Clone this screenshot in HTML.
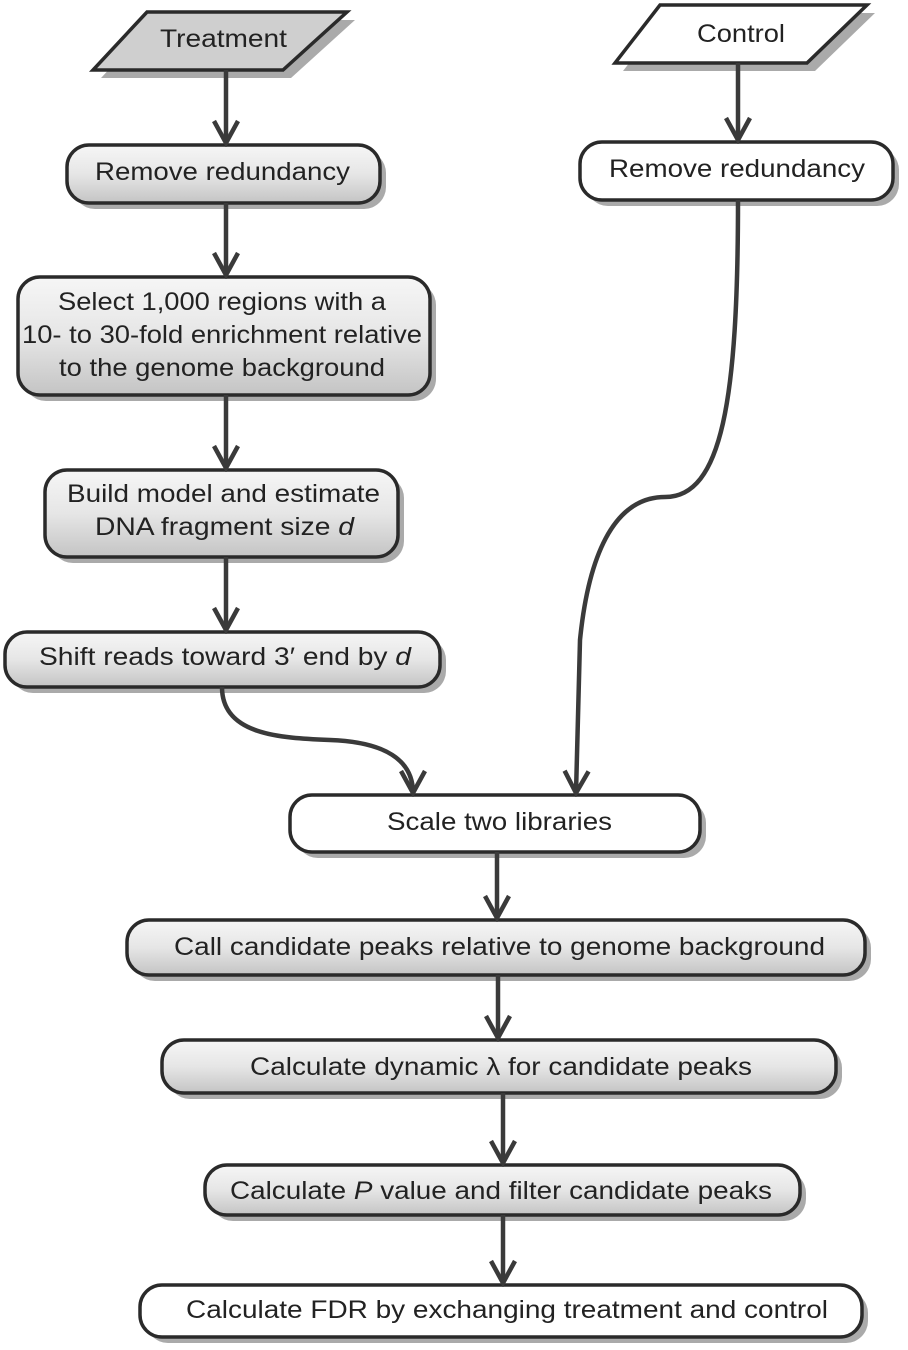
<!DOCTYPE html>
<html><head><meta charset="utf-8"><style>
html,body{margin:0;padding:0;background:#fff;}
svg{display:block;}
text{font-family:"Liberation Sans",Arial,sans-serif;font-size:25px;fill:#222;}
</style></head><body>
<svg width="908" height="1350" viewBox="0 0 908 1350" xmlns="http://www.w3.org/2000/svg">
<defs>
<linearGradient id="g" x1="0" y1="0" x2="0" y2="1">
<stop offset="0" stop-color="#f6f6f6"/><stop offset="0.5" stop-color="#e6e6e6"/><stop offset="1" stop-color="#c4c4c4"/>
</linearGradient>
<marker id="a" viewBox="-26 -16 30 32" markerWidth="30" markerHeight="32" refX="0" refY="0" orient="auto" markerUnits="userSpaceOnUse">
<path d="M-22,-12 L0,0 L-22,12" fill="none" stroke="#3a3a3a" stroke-width="4.5" stroke-linejoin="miter"/>
</marker>
</defs>

<!-- shadows -->
<g fill="#aaa">
<polygon points="155,20 355,20 291,78 101,78"/>
<polygon points="668,13 875,13 815,71 623,71"/>
<rect x="73" y="151" width="313" height="58" rx="22"/>
<rect x="586" y="148" width="313" height="58" rx="22"/>
<rect x="24" y="283" width="412" height="118" rx="22"/>
<rect x="51" y="476" width="353" height="87" rx="22"/>
<rect x="11" y="638" width="435" height="55" rx="22"/>
<rect x="296" y="801" width="410" height="57" rx="22"/>
<rect x="133" y="926" width="738" height="55" rx="22"/>
<rect x="168" y="1046" width="674" height="53" rx="22"/>
<rect x="211" y="1171" width="595" height="50" rx="22"/>
<rect x="146" y="1291" width="722" height="52" rx="22"/>
</g>

<!-- shapes -->
<g stroke="#2a2a2a" stroke-width="3.5">
<polygon points="147,12 347,12 283,70 93,70" fill="#cfcfcf"/>
<polygon points="660,5 867,5 807,63 615,63" fill="#fff"/>
<rect x="67" y="145" width="313" height="58" rx="22" fill="url(#g)"/>
<rect x="580" y="142" width="313" height="58" rx="22" fill="#fff"/>
<rect x="18" y="277" width="412" height="118" rx="22" fill="url(#g)"/>
<rect x="45" y="470" width="353" height="87" rx="22" fill="url(#g)"/>
<rect x="5" y="632" width="435" height="55" rx="22" fill="url(#g)"/>
<rect x="290" y="795" width="410" height="57" rx="22" fill="#fff"/>
<rect x="127" y="920" width="738" height="55" rx="22" fill="url(#g)"/>
<rect x="162" y="1040" width="674" height="53" rx="22" fill="url(#g)"/>
<rect x="205" y="1165" width="595" height="50" rx="22" fill="url(#g)"/>
<rect x="140" y="1285" width="722" height="52" rx="22" fill="#fff"/>
</g>

<!-- connectors -->
<g stroke="#3a3a3a" stroke-width="4.5" fill="none" marker-end="url(#a)">
<path d="M226,70 L226,143"/>
<path d="M226,203 L226,275"/>
<path d="M226,395 L226,468"/>
<path d="M226,557 L226,630"/>
<path d="M738,63 L738,140"/>
<path d="M738,200 C738,400 722,497 665,497 C612,497 588,560 580,640 L576,793"/>
<path d="M222,687 C222,735 280,738 330,740 C385,742 413,760 413,793"/>
<path d="M497,852 L497,918"/>
<path d="M498,975 L498,1038"/>
<path d="M503,1093 L503,1163"/>
<path d="M503,1215 L503,1283"/>
</g>

<!-- labels -->
<text x="160" y="47" textLength="127" lengthAdjust="spacingAndGlyphs">Treatment</text>
<text x="697" y="42" textLength="88" lengthAdjust="spacingAndGlyphs">Control</text>
<text x="95" y="180" textLength="255" lengthAdjust="spacingAndGlyphs">Remove redundancy</text>
<text x="609" y="177" textLength="256" lengthAdjust="spacingAndGlyphs">Remove redundancy</text>
<text x="58" y="310" textLength="328" lengthAdjust="spacingAndGlyphs">Select 1,000 regions with a</text>
<text x="22" y="343" textLength="400" lengthAdjust="spacingAndGlyphs">10- to 30-fold enrichment relative</text>
<text x="59" y="376" textLength="326" lengthAdjust="spacingAndGlyphs">to the genome background</text>
<text x="67" y="502" textLength="313" lengthAdjust="spacingAndGlyphs">Build model and estimate</text>
<text x="95" y="535" textLength="259" lengthAdjust="spacingAndGlyphs">DNA fragment size <tspan font-style="italic">d</tspan></text>
<text x="39" y="665" textLength="372" lengthAdjust="spacingAndGlyphs">Shift reads toward 3′ end by <tspan font-style="italic">d</tspan></text>
<text x="387" y="830" textLength="225" lengthAdjust="spacingAndGlyphs">Scale two libraries</text>
<text x="174" y="955" textLength="651" lengthAdjust="spacingAndGlyphs">Call candidate peaks relative to genome background</text>
<text x="250" y="1075" textLength="502" lengthAdjust="spacingAndGlyphs">Calculate dynamic λ for candidate peaks</text>
<text x="230" y="1199" textLength="542" lengthAdjust="spacingAndGlyphs">Calculate <tspan font-style="italic">P</tspan> value and filter candidate peaks</text>
<text x="186" y="1318" textLength="642" lengthAdjust="spacingAndGlyphs">Calculate FDR by exchanging treatment and control</text>
</svg>
</body></html>
